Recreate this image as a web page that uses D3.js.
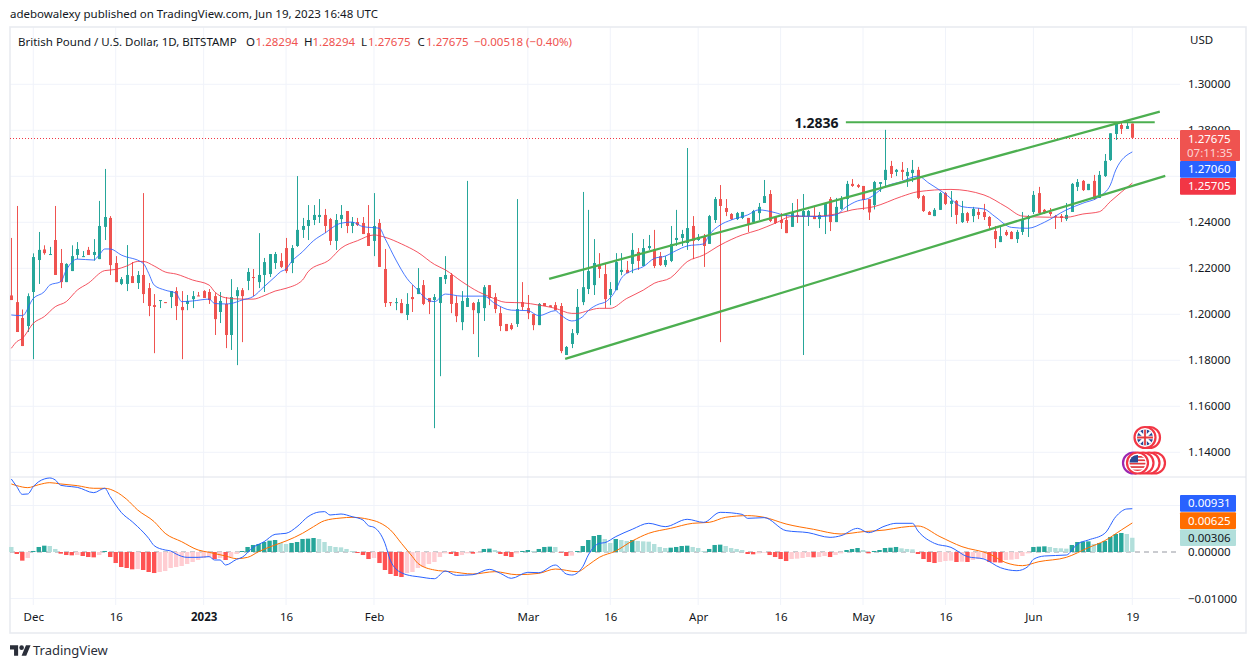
<!DOCTYPE html>
<html>
<head>
<meta charset="utf-8">
<title>GBPUSD</title>
<script src="https://d3js.org/d3.v7.min.js"></script>
<style>
html,body{margin:0;padding:0;background:#fff}
text{font-family:"Noto Sans",sans-serif;font-size:11.5px;fill:#131722}
</style>
</head>
<body>
<div id="chart"></div>
<script>
// candles, one a day from 27 Nov 2022
var firstDay = new Date(Date.UTC(2022,10,27));
var opens = [1.2082,1.2053,1.1984,1.1949,1.2097,1.2236,1.2282,1.2258,1.2323,1.2223,
1.2140,1.2188,1.2258,1.2249,1.2280,1.2258,1.2240,1.2380,1.2419,1.2223,
1.2132,1.2132,1.2166,1.2136,1.2171,1.2114,1.2040,1.2058,1.2053,1.2075,
1.2101,1.2032,1.2045,1.2066,1.2082,1.2101,1.2097,1.2079,1.2010,1.2045,
1.1910,1.2079,1.2105,1.2145,1.2162,1.2140,1.2171,1.2175,1.2223,1.2232,
1.2288,1.2223,1.2297,1.2367,1.2384,1.2410,1.2423,1.2432,1.2414,1.2319,
1.2414,1.2449,1.2384,1.2401,1.2397,1.2353,1.2319,1.2397,1.2197,1.2053,
1.2049,1.2049,1.1997,1.2075,1.2088,1.2127,1.2071,1.2062,1.2049,1.2153,
1.2171,1.2049,1.1966,1.2032,1.2049,1.2005,1.2027,1.2127,1.2075,1.2005,
1.1958,1.1953,1.1958,1.2053,1.2027,1.2001,1.1953,1.2049,1.2039,1.2040,
1.2036,1.1823,1.1871,1.1918,1.2053,1.2110,1.2127,1.2214,1.2175,1.2084,
1.2105,1.2184,1.2193,1.2219,1.2271,1.2210,1.2288,1.2284,1.2253,1.2214,
1.2232,1.2323,1.2332,1.2310,1.2384,1.2323,1.2336,1.2306,1.2410,1.2501,
1.2462,1.2436,1.2414,1.2419,1.2419,1.2401,1.2440,1.2484,1.2523,1.2423,
1.2410,1.2410,1.2380,1.2432,1.2423,1.2427,1.2427,1.2414,1.2427,1.2501,
1.2401,1.2458,1.2501,1.2567,1.2562,1.2558,1.2501,1.2475,1.2567,1.2584,
1.2645,1.2619,1.2628,1.2601,1.2614,1.2628,1.2514,1.2445,1.2427,1.2454,
1.2527,1.2480,1.2493,1.2401,1.2440,1.2427,1.2445,1.2445,1.2423,1.2362,
1.2314,1.2358,1.2358,1.2327,1.2358,1.2414,1.2445,1.2527,1.2454,1.2445,
1.2427,1.2427,1.2414,1.2445,1.2554,1.2580,1.2540,1.2580,1.2506,1.2601,
1.2671,1.2784,1.2823,1.2806,1.28294];
var highs = [1.2332,1.2471,1.2021,1.2091,1.2265,1.2358,1.2300,1.2293,1.2471,1.2284,
1.2222,1.2300,1.2314,1.2275,1.2293,1.2327,1.2493,1.2632,1.2427,1.2253,
1.2162,1.2301,1.2227,1.2188,1.2527,1.2136,1.2088,1.2062,1.2053,1.2101,
1.2118,1.2101,1.2084,1.2101,1.2097,1.2105,1.2110,1.2092,1.2097,1.2075,
1.2153,1.2118,1.2114,1.2201,1.2197,1.2353,1.2245,1.2262,1.2271,1.2266,
1.2332,1.2301,1.2601,1.2419,1.2475,1.2475,1.2501,1.2458,1.2419,1.2436,
1.2475,1.2449,1.2423,1.2419,1.2423,1.2475,1.2527,1.2414,1.2284,1.2053,
1.2071,1.2066,1.2092,1.2127,1.2201,1.2149,1.2071,1.2088,1.2162,1.2253,
1.2179,1.2079,1.2101,1.2580,1.2053,1.2066,1.2127,1.2127,1.2092,1.2032,
1.1958,1.1962,1.2501,1.2140,1.2084,1.2001,1.2049,1.2049,1.2039,1.2053,
1.2049,1.1862,1.1936,1.2110,1.2532,1.2454,1.2327,1.2266,1.2223,1.2140,
1.2266,1.2266,1.2232,1.2353,1.2288,1.2327,1.2345,1.2367,1.2271,1.2253,
1.2384,1.2454,1.2367,1.2723,1.2427,1.2349,1.2349,1.2432,1.2510,1.2562,
1.2501,1.2440,1.2445,1.2445,1.2419,1.2454,1.2484,1.2584,1.2540,1.2427,
1.2440,1.2440,1.2484,1.2501,1.2523,1.2454,1.2471,1.2445,1.2480,1.2510,
1.2506,1.2514,1.2580,1.2588,1.2567,1.2558,1.2501,1.2580,1.2575,1.2802,
1.2667,1.2632,1.2662,1.2636,1.2671,1.2641,1.2519,1.2449,1.2462,1.2532,
1.2532,1.2536,1.2497,1.2493,1.2445,1.2467,1.2462,1.2480,1.2427,1.2384,
1.2384,1.2367,1.2362,1.2367,1.2445,1.2432,1.2536,1.2554,1.2458,1.2462,
1.2432,1.2436,1.2484,1.2571,1.2588,1.2584,1.2567,1.2606,1.2623,1.2697,
1.2787,1.2836,1.2836,1.2836,1.28294];
var lows = [1.2062,1.1923,1.1862,1.1923,1.1805,1.2132,1.2259,1.2258,1.2171,1.2114,
1.2140,1.2188,1.2240,1.2249,1.2258,1.2233,1.2240,1.2323,1.2171,1.2140,
1.2127,1.2101,1.2136,1.2110,1.2049,1.1992,1.1831,1.2027,1.2049,1.2027,
1.1975,1.1805,1.2018,1.2027,1.2079,1.2071,1.2045,1.1910,1.1962,1.1853,
1.1845,1.1779,1.1879,1.2105,1.2079,1.2114,1.2097,1.2162,1.2197,1.2201,
1.2179,1.2179,1.2293,1.2332,1.2323,1.2388,1.2397,1.2353,1.2301,1.2280,
1.2375,1.2353,1.2353,1.2384,1.2349,1.2297,1.2253,1.2206,1.2032,1.2036,
1.2018,1.2005,1.1975,1.2010,1.2088,1.2040,1.2001,1.1505,1.1731,1.2132,
1.2005,1.1966,1.1931,1.2032,1.1914,1.1814,1.1971,1.2040,1.2005,1.1927,
1.1927,1.1931,1.1945,1.2018,1.1979,1.1931,1.1953,1.2036,1.2032,1.2018,
1.1831,1.1823,1.1853,1.1910,1.2040,1.2088,1.2084,1.2158,1.2027,1.2040,
1.2105,1.2170,1.2179,1.2179,1.2193,1.2210,1.2280,1.2201,1.2210,1.2206,
1.2227,1.2297,1.2297,1.2280,1.2240,1.2319,1.2206,1.2306,1.2397,1.1879,
1.2427,1.2410,1.2410,1.2414,1.2358,1.2397,1.2410,1.2484,1.2401,1.2393,
1.2371,1.2353,1.2380,1.2397,1.1823,1.2384,1.2414,1.2375,1.2349,1.2362,
1.2401,1.2454,1.2449,1.2554,1.2549,1.2454,1.2410,1.2456,1.2532,1.2555,
1.2593,1.2601,1.2584,1.2554,1.2575,1.2501,1.2445,1.2432,1.2427,1.2454,
1.2475,1.2423,1.2393,1.2397,1.2397,1.2401,1.2414,1.2410,1.2367,1.2288,
1.2314,1.2340,1.2327,1.2310,1.2345,1.2336,1.2436,1.2436,1.2436,1.2427,
1.2371,1.2401,1.2406,1.2445,1.2536,1.2536,1.2540,1.2497,1.2506,1.2597,
1.2667,1.2758,1.2784,1.2806,1.27675];
var closes = [1.2062,1.1923,1.1862,1.2079,1.2249,1.2280,1.2266,1.2262,1.2171,1.2140,
1.2219,1.2253,1.2284,1.2253,1.2258,1.2271,1.2384,1.2423,1.2214,1.2140,
1.2153,1.2171,1.2136,1.2171,1.2088,1.2036,1.2032,1.2062,1.2049,1.2101,
1.2036,1.2018,1.2058,1.2079,1.2079,1.2071,1.2062,1.1979,1.2058,1.1910,
1.2075,1.2105,1.2079,1.2184,1.2159,1.2171,1.2227,1.2262,1.2262,1.2206,
1.2188,1.2288,1.2367,1.2384,1.2410,1.2432,1.2432,1.2384,1.2319,1.2410,
1.2432,1.2384,1.2401,1.2388,1.2349,1.2297,1.2384,1.2206,1.2049,1.2049,
1.2053,1.2005,1.2045,1.2066,1.2114,1.2045,1.2053,1.2075,1.2162,1.2171,
1.2045,1.1992,1.2058,1.2071,1.2018,1.2053,1.2118,1.2071,1.2023,1.1949,
1.1927,1.1936,1.2023,1.2032,1.2005,1.1953,1.2045,1.2036,1.2032,1.2018,
1.1840,1.1858,1.1918,1.2032,1.2118,1.2188,1.2223,1.2197,1.2066,1.2110,
1.2227,1.2193,1.2179,1.2280,1.2232,1.2288,1.2297,1.2210,1.2214,1.2236,
1.2306,1.2332,1.2349,1.2375,1.2319,1.2336,1.2297,1.2427,1.2501,1.2471,
1.2445,1.2414,1.2440,1.2445,1.2388,1.2449,1.2467,1.2514,1.2406,1.2397,
1.2397,1.2353,1.2445,1.2423,1.2449,1.2449,1.2414,1.2432,1.2480,1.2401,
1.2467,1.2501,1.2567,1.2558,1.2554,1.2497,1.2443,1.2575,1.2575,1.2628,
1.2610,1.2628,1.2619,1.2619,1.2628,1.2506,1.2449,1.2432,1.2454,1.2527,
1.2480,1.2493,1.2432,1.2440,1.2406,1.2458,1.2432,1.2423,1.2384,1.2327,
1.2340,1.2345,1.2327,1.2358,1.2410,1.2427,1.2519,1.2440,1.2440,1.2436,
1.2423,1.2419,1.2432,1.2567,1.2575,1.2540,1.2567,1.2501,1.2606,1.2667,
1.2787,1.2832,1.2806,1.2819,1.27675];

// moving averages, [day number, price]
var maFast = [[0,1.1997],[2,1.1994],[4,1.2069],[6,1.2098],[7,1.2127],[9,1.2142],[10,1.2192],[12,1.2240],[15,1.2236],[16,1.2258],[17,1.2284],[18,1.2284],[20,1.2258],[24,1.2222],[25,1.2178],[26,1.2127],[28,1.2105],[30,1.2091],[31,1.2055],[33,1.2058],[36,1.2066],[37,1.2047],[39,1.2045],[40,1.2047],[42,1.2062],[44,1.2077],[46,1.2120],[48,1.2163],[49,1.2185],[50,1.2197],[51,1.2229],
[53,1.2272],[55,1.2320],[57,1.2352],[60,1.2396],[62,1.2401],[64,1.2381],[67,1.2374],[68,1.2330],[70,1.2236],[72,1.2156],[74,1.2105],[75,1.2077],[77,1.2055],[79,1.2088],[82,1.2079],[86,1.2079],[88,1.2047],[91,1.2018],[94,1.2016],[96,1.1994],[99,1.2016],[100,1.1997],[102,1.1971],[104,1.1990],[105,1.2016],
[107,1.2045],[108,1.2052],[110,1.2105],[111,1.2156],[113,1.2190],[115,1.2207],[117,1.2243],[119,1.2253],[121,1.2277],[123,1.2297],[126,1.2306],[127,1.2345],[129,1.2388],[131,1.2410],[134,1.2432],[136,1.2454],[139,1.2442],[141,1.2429],[144,1.2427],[147,1.2425],[150,1.2432],[152,1.2468],[154,1.2493],
[156,1.2504],[159,1.2555],[162,1.2577],[165,1.2601],[167,1.2570],[170,1.2523],[173,1.2468],[177,1.2458],[179,1.2425],[182,1.2378],[185,1.2374],[188,1.2400],[192,1.2454],[195,1.2483],[198,1.2512],[200,1.2562],[201,1.2628],[204,1.2706]];
var maSlow = [[0,1.1852],[1,1.1881],[2,1.1895],[4,1.1961],[6,1.1990],[8,1.2033],[10,1.2055],[12,1.2105],[14,1.2135],[17,1.2190],[19,1.2195],[21,1.2210],[23,1.2230],[24,1.2230],[26,1.2210],[28,1.2184],[30,1.2175],[33,1.2149],[36,1.2127],[37,1.2098],[39,1.2072],[42,1.2066],[44,1.2066],[46,1.2081],[48,1.2101],[50,1.2113],[53,1.2149],
[54,1.2185],[58,1.2239],[60,1.2287],[63,1.2320],[66,1.2345],[68,1.2335],[71,1.2306],[74,1.2269],[77,1.2217],[79,1.2193],[82,1.2142],[85,1.2098],[87,1.2077],[90,1.2052],[93,1.2050],[96,1.2040],[99,1.2026],[102,1.2004],[103,1.2004],[105,1.2016],
[107,1.2026],[109,1.2026],[112,1.2069],[115,1.2105],[117,1.2135],[120,1.2159],[123,1.2229],[126,1.2258],[129,1.2301],[133,1.2345],[136,1.2367],[139,1.2396],[142,1.2425],[147,1.2427],[150,1.2436],[153,1.2454],
[157,1.2468],[162,1.2512],[165,1.2533],[171,1.2543],[177,1.2519],[181,1.2468],[184,1.2427],[189,1.2422],[192,1.2422],[195,1.2436],[198,1.2446],[200,1.2490],[204,1.25705]];

// MACD pane
var macdLine = [[0,.0157],[1,.01405],[2,.0124],[3,.01248],[4,.01405],[5,.01513],[6,.0157],[7,.01592],[8,.01549],[9,.01434],[11,.01405],[12,.01391],[15,.01276],[17,.0137],[18,.0119],[19,.01011],[20,.00853],[22,.00652],[23,.00545],[25,.00294],[26,.00136],[28,.00043],[29,.00022],[30,-.00043],[32,-.00115],[34,-.00115],[36,-.001],[37,-.00172],[38,-.00172],[39,-.0028],[41,-.00158],[42,-.00115],[44,.001],[46,.00222],[48,.0038],[50,.00402],[52,.00545],[54,.0076],[56,.0086],[57,.00868],[58,.00796],[60,.00817],[62,.0076],[64,.00688],[65,.00566],[66,.00531],[68,.00186],[69,-.00186],[70,-.00366],[71,-.00445],[73,-.00516],[74,-.00531],
[77,-.00574],[79,-.00409],[81,-.00502],[84,-.00488],[87,-.00373],[89,-.00459],[91,-.00566],[94,-.00437],[96,-.00445],[99,-.0028],[101,-.00473],[102,-.00495],[104,-.00315],[105,-.00065],[107,.00186],[108,.00201],[110,.0033],[113,.00488],[116,.00617],[119,.00545],[123,.00703],[126,.00638],[129,.00853],[133,.0081],[134,.00724],[137,.00739],[141,.00459],[145,.00416],[149,.00315],
[151,.00351],[154,.00509],[156,.00416],[159,.00559],[161,.00617],[164,.00617],[165,.00452],[168,.00186],[171,.001],[174,-.001],[177,-.00151],[180,-.00337],[183,-.00402],[185,-.00315],[186,-.00158],[188,-.00086],[192,-.00065],[194,.00172],[196,.00258],[199,.00402],[201,.0076],[203,.00925],[204,.00931]];
var signalLine = [[0,.01463],[1,.01427],[3,.01384],[5,.01448],[7,.01491],[9,.01463],[12,.01427],[15,.0137],[17,.0137],[19,.01298],[21,.01133],[23,.00903],[26,.00652],[28,.00402],[31,.00222],[34,.00043],[36,-.00007],[39,-.00086],[41,-.00143],[43,-.00115],[45,.00007],[48,.00151],[50,.00237],[53,.00402],[55,.00545],[57,.00674],[60,.00731],[62,.00746],[65,.00703],[67,.00631],[69,.00473],[71,.00186],[73,-.001],[74,-.00244],
[77,-.00387],[80,-.00423],[84,-.00473],[88,-.00423],[92,-.00488],[96,-.00459],[99,-.00366],[103,-.00423],[105,-.0028],[107,-.00115],[110,.00022],[113,.00237],[116,.00402],[120,.00509],[124,.00617],[127,.00638],[130,.00746],[134,.00782],[137,.00746],[141,.00602],[146,.00488],[151,.00387],
[155,.00437],[159,.00473],[162,.00531],[165,.00559],[169,.0033],[173,.00115],[178,-.00043],[181,-.00229],[184,-.00294],[187,-.00208],[192,-.00115],[196,.00093],[199,.00244],[202,.00473],[204,.00625]];
var macdHist = [.00108,-.00043,-.00186,-.00129,.00022,.00108,.00136,.00129,.00065,-.00036,
-.00065,-.00072,-.00065,-.00086,-.00108,-.00115,-.00065,.00022,-.00108,-.00237,
-.00323,-.00344,-.00373,-.00366,-.00387,-.0043,-.00452,-.0043,-.00409,-.00344,
-.00323,-.00301,-.00258,-.00215,-.00172,-.00129,-.00108,-.00151,-.00129,-.00172,
-.00108,-.00043,.00022,.00108,.00151,.00172,.00215,.00244,.00258,.00194,
.00172,.00194,.00215,.0028,.00287,.00301,.0028,.00215,.00129,.00108,
.001,.00065,.00022,-.00022,-.00065,-.00151,-.00129,-.00237,-.00387,-.00473,
-.00516,-.00538,-.00452,-.0043,-.00344,-.00323,-.00258,-.00215,-.00108,-.00029,
-.00043,-.00086,-.00065,-.00029,-.00036,-.00014,.00065,.00072,.00043,-.00043,
-.00086,-.00108,-.00029,.00022,.00043,.00022,.00065,.00108,.00115,.00108,
-.00014,-.00086,-.00079,.00022,.00129,.00258,.00344,.00366,.0028,.00194,
.0028,.00258,.00237,.00258,.00237,.00229,.00222,.00172,.00108,.00086,
.00093,.00108,.00129,.00136,.00108,.00086,.00022,.00065,.00151,.00158,
.00129,.00086,.00065,.00043,-.00043,-.0005,-.00029,-.00014,-.00065,-.00108,
-.00151,-.00194,-.00151,-.00143,-.00129,-.00108,-.00115,-.00108,-.00086,-.00108,
-.00065,-.00029,.00043,.00065,.00086,.00043,-.00029,.00022,.00043,.00086,
.00093,.00108,.00079,.00065,.00057,-.00043,-.00151,-.00215,-.00237,-.00215,
-.00194,-.00186,-.00215,-.00208,-.00215,-.00172,-.00151,-.00143,-.00215,-.00222,
-.00229,-.00172,-.00165,-.00151,-.00086,-.00029,.00108,.00115,.00122,.00108,
.00086,.00079,.00072,.00151,.00215,.00222,.00229,.00172,.00194,.00237,
.00323,.00387,.00409,.00387,.00306];

// drawn lines on the price pane
var upperChannel = [[97.9,1.2154],[209,1.2881]];
var lowerChannel = [[100.8,1.1806],[210,1.2602]];
var resistance = [[151.9,1.2835],[208.1,1.2835]];
var resistanceLabel = "1.2836";

var priceGrid = [1.30,1.28,1.26,1.24,1.22,1.20,1.18,1.16,1.14];
var priceTicks = [1.30,1.28,1.24,1.22,1.20,1.18,1.16,1.14];  // 1.26 sits behind the price tags
var macdTicks = [0,-0.01];
var timeTicks = ["2022-12-01","2022-12-16","2023-01-01","2023-01-16","2023-02-01","2023-03-01","2023-03-16","2023-04-01","2023-04-16","2023-05-01","2023-05-16","2023-06-01","2023-06-19"];
var timeLabels = ["Dec","16","2023","16","Feb","Mar","16","Apr","16","May","16","Jun","19"];

var upColor = "#26a69a", downColor = "#ef5350";
var width = 1256, height = 668;
var left = 10, right = 1180, paneTop = 27, paneSplit = 477, paneBottom = 605, frameRight = 1246, frameBottom = 633;

var svg = d3.select("#chart").append("svg").attr("width",width).attr("height",height).style("display","block");

function dayOf(i){ return d3.utcDay.offset(firstDay,i); }
var x = d3.scaleUtc().domain([dayOf(0),dayOf(204)]).range([11.3,1132.3]);
var y = d3.scaleLinear().domain([1.14,1.30]).range([452.3,84.3]);
var yM = d3.scaleLinear().domain([-0.01,0.01]).range([598.5,505.5]);
var parseDay = d3.utcParse("%Y-%m-%d");
var tickDays = timeTicks.map(parseDay);

// grid
svg.append("g").selectAll("line").data(tickDays).join("line")
  .attr("x1",d=>x(d)).attr("x2",d=>x(d)).attr("y1",paneTop).attr("y2",paneBottom).attr("stroke","#f0f3fa");
svg.append("g").selectAll("line").data(priceGrid).join("line")
  .attr("x1",left).attr("x2",right).attr("y1",d=>y(d)).attr("y2",d=>y(d)).attr("stroke","#f0f3fa");
svg.append("g").selectAll("line").data([0.01,-0.01]).join("line")
  .attr("x1",left).attr("x2",right).attr("y1",d=>yM(d)).attr("y2",d=>yM(d)).attr("stroke","#f0f3fa");

// frame
svg.append("rect").attr("x",left).attr("y",paneTop).attr("width",frameRight-left).attr("height",frameBottom-paneTop)
  .attr("fill","none").attr("stroke","#e9ebf1").attr("stroke-width",1.6);
svg.append("line").attr("x1",left).attr("x2",frameRight).attr("y1",paneSplit).attr("y2",paneSplit).attr("stroke","#e0e3eb");

// last price line
var lastY = Math.round(y(1.27675))+0.5;
svg.append("line").attr("x1",left).attr("x2",right).attr("y1",lastY).attr("y2",lastY)
  .attr("stroke","#f23645").attr("stroke-dasharray","1 2");

var candles = closes.map((c,i)=>({day:dayOf(i),o:opens[i],h:highs[i],l:lows[i],c:c}));
var candle = svg.append("g").selectAll("g").data(candles).join("g")
  .attr("fill",d=>d.c>=d.o?upColor:downColor);
candle.append("rect").attr("x",d=>Math.round(x(d.day))).attr("width",1)
  .attr("y",d=>y(d.h)).attr("height",d=>y(d.l)-y(d.h));
candle.append("rect").attr("x",d=>Math.round(x(d.day))-1).attr("width",3)
  .attr("y",d=>y(Math.max(d.o,d.c))).attr("height",d=>Math.max(1,Math.abs(y(d.o)-y(d.c))));

var maPath = d3.line().x(d=>x(dayOf(d[0]))).y(d=>y(d[1])).curve(d3.curveMonotoneX);
svg.append("path").attr("d",maPath(maSlow)).attr("fill","none").attr("stroke","#f23645").attr("stroke-opacity",.85);
svg.append("path").attr("d",maPath(maFast)).attr("fill","none").attr("stroke","#2962ff").attr("stroke-opacity",.85);

// trend lines
var trendPath = d3.line().x(d=>x(d3.utcHour.offset(firstDay,d[0]*24))).y(d=>y(d[1]));
[upperChannel,lowerChannel,resistance].forEach(function(t){
  svg.append("path").attr("d",trendPath(t)).attr("fill","none").attr("stroke","#4caf50").attr("stroke-width",2.2);
});
svg.append("text").attr("x",816.5).attr("y",127.5).attr("text-anchor","middle")
  .style("font-size","14px").style("font-weight","700").text(resistanceLabel);

// MACD
svg.append("line").attr("x1",left).attr("x2",right).attr("y1",yM(0)).attr("y2",yM(0))
  .attr("stroke","#9598a1").attr("stroke-dasharray","5 4");
function histColor(v,i){
  var prev = i ? macdHist[i-1] : Infinity;
  if (v>=0) return v>prev ? upColor : "#b2dfdb";
  return v<prev ? "#ff5252" : "#ffcdd2";
}
svg.append("g").selectAll("rect").data(macdHist).join("rect")
  .attr("x",(d,i)=>x(dayOf(i))-2.2).attr("width",4.4)
  .attr("y",d=>Math.min(yM(d),yM(0))).attr("height",d=>Math.abs(yM(d)-yM(0)))
  .attr("fill",histColor);
var macdPath = d3.line().x(d=>x(dayOf(d[0]))).y(d=>yM(d[1])).curve(d3.curveMonotoneX);
svg.append("path").attr("d",macdPath(signalLine)).attr("fill","none").attr("stroke","#ff6d00");
svg.append("path").attr("d",macdPath(macdLine)).attr("fill","none").attr("stroke","#2962ff");

// axes
var priceAxis = d3.axisRight(y).tickValues(priceTicks).tickFormat(d3.format(".5f")).tickSize(0).tickPadding(0);
svg.append("g").attr("transform","translate(1188,0)").call(priceAxis).call(g=>g.select(".domain").remove());
var macdAxis = d3.axisRight(yM).tickValues(macdTicks).tickFormat(d=>d3.format(".5f")(d).replace("-","\u2212")).tickSize(0).tickPadding(0);
svg.append("g").attr("transform","translate(1188,0)").call(macdAxis).call(g=>g.select(".domain").remove());
var timeAxis = d3.axisBottom(x).tickValues(tickDays).tickFormat((d,i)=>timeLabels[i]).tickSize(0).tickPadding(0);
svg.append("g").attr("transform","translate(0,613)").call(timeAxis).call(g=>g.select(".domain").remove())
  .selectAll("text").style("font-weight",(d,i)=>timeLabels[i]=="2023"?"700":"400");
svg.selectAll("g").filter(function(){return this.getAttribute("font-family");}).attr("font-family",null).attr("font-size",null);

svg.append("text").attr("x",1190).attr("y",44).text("USD");

// price and indicator labels
function tag(top,h,w,fill,label,color){
  svg.append("rect").attr("x",right).attr("y",top).attr("width",w).attr("height",h).attr("rx",1).attr("fill",fill);
  svg.append("text").attr("x",1188).attr("y",top+h/2+4).style("fill",color).text(label);
}
svg.append("rect").attr("x",right).attr("y",130).attr("width",60).attr("height",31).attr("rx",1).attr("fill",downColor);
svg.append("text").attr("x",1188).attr("y",143).style("fill","#fff").text("1.27675");
svg.append("text").attr("x",1187).attr("y",157).style("fill","#fff").style("fill-opacity",.75).text("07:11:35");
tag(161,16.7,56,"#2962ff","1.27060","#fff");
tag(178,16.7,56,"#f23645","1.25705","#fff");
tag(495,16.7,56,"#2962ff","0.00931","#fff");
tag(512.3,16.7,56,"#ff6d00","0.00625","#fff");
tag(529.3,16.7,56,"#b2dfdb","0.00306","#131722");

// header and legend
svg.append("text").attr("x",10).attr("y",18).text("adebowalexy published on TradingView.com, Jun 19, 2023 16:48 UTC");
var legend = [[18,"British Pound / U.S. Dollar, 1D, BITSTAMP",0],[246,"O",0],[255.5,"1.28294",1],[304,"H",0],[312.5,"1.28294",1],[361,"L",0],[368,"1.27675",1],[417.6,"C",0],[426,"1.27675",1],[474,"\u22120.00518 (\u22120.40%)",1]];
svg.append("g").selectAll("text").data(legend).join("text")
  .attr("x",d=>d[0]).attr("y",45.5).text(d=>d[1]).style("fill",d=>d[2]?downColor:"#131722");

// flags
function ring(g,cx,cy,r,stroke){
  g.append("circle").attr("cx",cx).attr("cy",cy).attr("r",r).attr("fill","#fff").attr("stroke",stroke).attr("stroke-width",2.2);
}
var flags = svg.append("g");
ring(flags,1149.5,437.5,10.5,"#f23645");
ring(flags,1145,437.5,10.5,"#f23645");
flags.append("clipPath").attr("id","uk").append("circle").attr("cx",1145).attr("cy",437.5).attr("r",8);
var uk = flags.append("g").attr("clip-path","url(#uk)");
uk.append("rect").attr("x",1137).attr("y",429.5).attr("width",16).attr("height",16).attr("fill","#2a4a94");
uk.append("path").attr("d","M1137 429.5L1153 445.5M1153 429.5L1137 445.5").attr("stroke","#fff").attr("stroke-width",2.4);
uk.append("path").attr("d","M1137 437.5H1153M1145 429.5V445.5").attr("stroke","#fff").attr("stroke-width",3.6);
uk.append("path").attr("d","M1137 437.5H1153M1145 429.5V445.5").attr("stroke","#e23a3f").attr("stroke-width",1.8);
ring(flags,1133.5,463,10.5,"#9c27b0");
ring(flags,1154.5,463,10.5,"#f23645");
ring(flags,1149,463,10.5,"#f23645");
ring(flags,1143,463,10.5,"#f23645");
ring(flags,1137.5,463,10.5,"#f23645");
flags.append("clipPath").attr("id","us").append("circle").attr("cx",1137.5).attr("cy",463).attr("r",8);
var us = flags.append("g").attr("clip-path","url(#us)");
us.append("rect").attr("x",1129).attr("y",455).attr("width",17).attr("height",16).attr("fill","#fff");
[456,459.4,462.8,466.2,469.6].forEach(function(s){ us.append("rect").attr("x",1129).attr("y",s).attr("width",17).attr("height",1.7).attr("fill","#e23a3f"); });
us.append("rect").attr("x",1129).attr("y",455).attr("width",9).attr("height",7.5).attr("fill","#2a4a94");

// logo
var logo = svg.append("g").attr("transform","translate(10,643) scale(.58)").attr("fill","#2a2e39");
logo.append("path").attr("d","M14 22H7V11H0V4h14v18zM28 22h-8l7.5-18h8L28 22z");
logo.append("circle").attr("cx",20).attr("cy",8).attr("r",4);
svg.append("text").attr("x",33).attr("y",654.5).style("font-size","13px").style("fill","#2a2e39").text("TradingView");
</script>
</body>
</html>
